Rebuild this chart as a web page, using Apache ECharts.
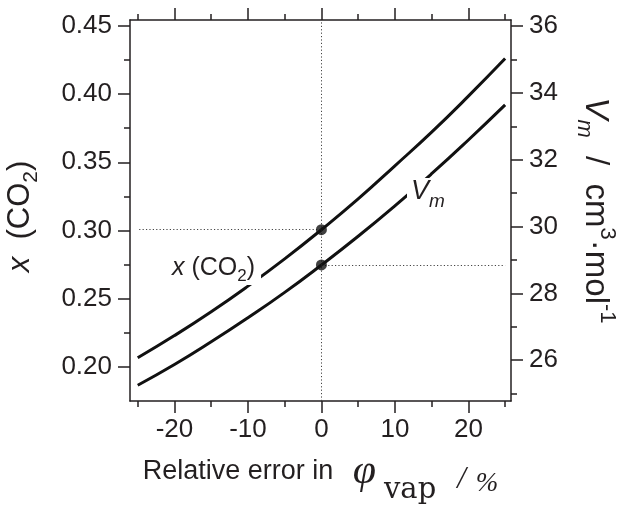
<!DOCTYPE html>
<html>
<head>
<meta charset="utf-8">
<script src="https://cdn.jsdelivr.net/npm/echarts@6/dist/echarts.min.js"></script>
<style>html,body{margin:0;padding:0;background:#fff}#c{width:617px;height:506px}</style>
</head>
<body>
<div id="c"></div>
<script>
// Data
const xValues = [-25, -20, -15, -10, -5, 0, 5, 10, 15, 20, 25];
const xCO2 = [0.2065, 0.2228, 0.2403, 0.2591, 0.2791, 0.3005, 0.3231, 0.3474, 0.3721, 0.3985, 0.4261];
const Vm = [25.25, 25.87, 26.55, 27.27, 28.03, 28.85, 29.71, 30.62, 31.58, 32.59, 33.64];
const xMajorTicks = [-20, -10, 0, 10, 20];
const xMinorTicks = [-25, -15, -5, 5, 15, 25];
const leftMajorTicks = [0.20, 0.25, 0.30, 0.35, 0.40, 0.45];
const leftMinorTicks = [0.225, 0.275, 0.325, 0.375, 0.425];
const rightMajorTicks = [26, 28, 30, 32, 34, 36];
const rightMinorTicks = [25, 27, 29, 31, 33, 35];
const markX = 0;
const markXCO2 = 0.3005;
const markVm = 28.85;

const INK = '#231f20';
const SANS = '"Liberation Sans", Arial, Helvetica, sans-serif';
const SERIF = '"Liberation Serif", "Times New Roman", serif';
const SERIF_WIDE = '"DejaVu Serif", "Liberation Serif", serif';
const X_MIN = -26.05, X_MAX = 25.8;
const L_MIN = 0.1748, L_MAX = 0.4544;
const R_MIN = 24.78, R_MAX = 36.18;

const chart = echarts.init(document.getElementById('c'), null, {renderer: 'canvas'});

function xAx(position, ticks, len, showLine, showLabel, extra) {
  return Object.assign({
    type: 'value', position: position, min: X_MIN, max: X_MAX,
    axisLine: {show: showLine, onZero: false, lineStyle: {color: INK, width: 1.5}},
    axisTick: {show: true, length: len, customValues: ticks, lineStyle: {color: INK, width: 1.5}},
    axisLabel: {show: showLabel, customValues: ticks, margin: 16, color: INK, fontSize: 26, fontFamily: SANS},
    splitLine: {show: false}
  }, extra || {});
}
function yAx(position, min, max, ticks, len, showLine, showLabel, fmt, extra) {
  return Object.assign({
    type: 'value', position: position, min: min, max: max,
    axisLine: {show: showLine, onZero: false, lineStyle: {color: INK, width: 1.5}},
    axisTick: {show: true, length: len, customValues: ticks, lineStyle: {color: INK, width: 1.5}},
    axisLabel: {show: showLabel, customValues: ticks, margin: 18, color: INK, fontSize: 26, fontFamily: SANS, formatter: fmt},
    splitLine: {show: false}
  }, extra || {});
}

const option = {
  animation: false,
  backgroundColor: '#fff',
  grid: {left: 130, right: 106, top: 20, bottom: 105, containLabel: false, outerBoundsMode: 'none'},
  xAxis: [
    xAx('bottom', xMajorTicks, 12, true, true, {
      name: '{a|Relative error in }{p|φ}{s|vap}{b|/}{c|%}',
      nameLocation: 'middle', nameGap: 50,
      nameTextStyle: {
        rich: {
          a: {fontFamily: SANS, fontSize: 27, color: INK, padding: [0, 0, 20, 0], verticalAlign: 'bottom'},
          p: {fontFamily: SERIF, fontStyle: 'italic', fontSize: 42, color: INK, padding: [0, 8, 12, 12], verticalAlign: 'bottom'},
          s: {fontFamily: SERIF_WIDE, fontSize: 29, color: INK, padding: [0, 0, 0, 0], verticalAlign: 'bottom'},
          b: {fontFamily: SERIF, fontStyle: 'italic', fontSize: 31, color: INK, padding: [0, 10, 10, 21], verticalAlign: 'bottom'},
          c: {fontFamily: SERIF, fontStyle: 'italic', fontSize: 27, color: INK, padding: [0, 0, 8, 0], verticalAlign: 'bottom'}
        }
      }
    }),
    xAx('bottom', xMinorTicks, 6, false, false),
    xAx('top', xMajorTicks, 12, true, false),
    xAx('top', xMinorTicks, 6, false, false)
  ],
  yAxis: [
    yAx('left', L_MIN, L_MAX, leftMajorTicks, 12, true, true, v => v.toFixed(2), {
      name: '{i|x}{a|  (CO}{s|2}{a|)}',
      nameLocation: 'middle', nameGap: 88, nameRotate: 90,
      nameTextStyle: {
        padding: [0, 12, 0, 0],
        rich: {
          i: {fontFamily: SANS, fontStyle: 'italic', fontSize: 31, color: INK, padding: [0, 0, 6, 0], verticalAlign: 'bottom'},
          a: {fontFamily: SANS, fontSize: 31, color: INK, padding: [0, 0, 6, 0], verticalAlign: 'bottom'},
          s: {fontFamily: SANS, fontSize: 21, color: INK, padding: [0, 0, 0, 0], verticalAlign: 'bottom'}
        }
      }
    }),
    yAx('left', L_MIN, L_MAX, leftMinorTicks, 6, false, false),
    yAx('right', R_MIN, R_MAX, rightMajorTicks, 12, true, true, v => String(v), {
      name: '{i|V}{si|m}{a|  /  cm}{sup|3}{a|·mol}{sup|-1}',
      nameLocation: 'middle', nameGap: 62, nameRotate: -90,
      nameTextStyle: {
        rich: {
          i: {fontFamily: SANS, fontStyle: 'italic', fontSize: 33, color: INK, padding: [0, 0, 6, 0], verticalAlign: 'bottom'},
          si: {fontFamily: SANS, fontStyle: 'italic', fontSize: 22, color: INK, padding: [0, 0, 0, 0], verticalAlign: 'bottom'},
          a: {fontFamily: SANS, fontSize: 33, color: INK, padding: [0, 0, 6, 0], verticalAlign: 'bottom'},
          sup: {fontFamily: SANS, fontSize: 22, color: INK, padding: [0, 0, 23, 0], verticalAlign: 'bottom'}
        }
      }
    }),
    yAx('right', R_MIN, R_MAX, rightMinorTicks, 6, false, false)
  ],
  series: [
    {
      name: 'x(CO2)', type: 'line', xAxisIndex: 0, yAxisIndex: 0, smooth: true, showSymbol: false,
      data: xValues.map((x, i) => [x, xCO2[i]]),
      lineStyle: {color: '#111', width: 3}, z: 3,
      markLine: {
        silent: true, symbol: 'none', label: {show: false},
        lineStyle: {color: '#444', width: 1, type: [1.2, 2.2]},
        data: [
          {xAxis: markX},
          [{coord: [-24.8, markXCO2]}, {coord: [markX, markXCO2]}]
        ]
      }
    },
    {
      name: 'Vm', type: 'line', xAxisIndex: 0, yAxisIndex: 2, smooth: true, showSymbol: false,
      data: xValues.map((x, i) => [x, Vm[i]]),
      lineStyle: {color: '#111', width: 3}, z: 3,
      markLine: {
        silent: true, symbol: 'none', label: {show: false},
        lineStyle: {color: '#444', width: 1, type: [1.2, 2.2]},
        data: [
          [{coord: [markX, markVm]}, {coord: [25, markVm]}]
        ]
      }
    },
    {
      type: 'scatter', xAxisIndex: 0, yAxisIndex: 0, symbolSize: 11, z: 5,
      itemStyle: {color: '#111'}, data: [[markX, markXCO2]]
    },
    {
      type: 'scatter', xAxisIndex: 0, yAxisIndex: 2, symbolSize: 11, z: 5,
      itemStyle: {color: '#111'}, data: [[markX, markVm]]
    }
  ],
  graphic: [
    {
      type: 'text', left: 168, top: 256, z: 100,
      style: {
        text: '{i|x}{a| (CO}{s|2}{a|)}',
        backgroundColor: '#fff', padding: [0, 6, 0, 4],
        rich: {
          i: {fontFamily: SANS, fontStyle: 'italic', fontSize: 25, fill: INK, padding: [0, 0, 4, 0], verticalAlign: 'bottom'},
          a: {fontFamily: SANS, fontSize: 25, fill: INK, padding: [0, 0, 4, 0], verticalAlign: 'bottom'},
          s: {fontFamily: SANS, fontSize: 17, fill: INK, verticalAlign: 'bottom'}
        }
      }
    },
    {
      type: 'text', left: 407, top: 178, z: 100,
      style: {
        text: '{i|V}{s|m}',
        backgroundColor: '#fff', padding: [0, 4, 0, 4],
        rich: {
          i: {fontFamily: SANS, fontStyle: 'italic', fontSize: 27, fill: INK, padding: [0, 0, 6, 0], verticalAlign: 'bottom'},
          s: {fontFamily: SANS, fontStyle: 'italic', fontSize: 19, fill: INK, verticalAlign: 'bottom'}
        }
      }
    }
  ]
};
chart.setOption(option);
</script>
</body>
</html>
